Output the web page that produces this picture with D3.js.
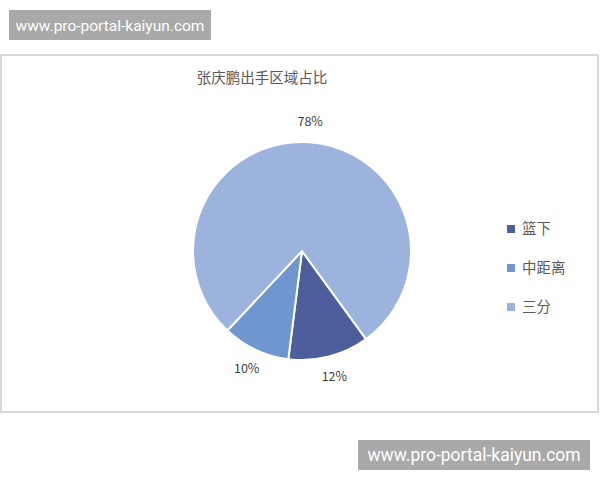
<!DOCTYPE html>
<html>
<head>
<meta charset="utf-8">
<script src="https://cdn.jsdelivr.net/npm/d3@7"></script>
<style>
  body { margin: 0; background: #fff; }
  svg { display: block; }
</style>
</head>
<body>
<svg id="chart" width="600" height="480"></svg>
<script>
'use strict';

// Données
const categories = ["篮下", "中距离", "三分"];
const valeurs = [12, 10, 78];
const etiquettes = ["12%", "10%", "78%"];
const couleurs = ["#4e5e9c", "#6f96cf", "#9cb3de"];

const titre = "张庆鹏出手区域占比";
const filigrane = "www.pro-portal-kaiyun.com";

const svg = d3.select("#chart");
const police = "'Noto Sans CJK SC', 'Noto Sans', sans-serif";

// Filigranes gris
function dessinerFiligrane(x, y, w, h, taille) {
    svg.append("rect")
        .attr("x", x).attr("y", y)
        .attr("width", w).attr("height", h)
        .attr("fill", "#a9a9a9");
    svg.append("text")
        .attr("x", x + w / 2).attr("y", y + h / 2 + 5.5)
        .attr("text-anchor", "middle")
        .attr("fill", "#ffffff")
        .style("font-family", "'Roboto', 'DejaVu Sans', sans-serif")
        .style("font-size", taille + "px")
        .text(filigrane);
}
dessinerFiligrane(9, 10, 202, 30, 15.5);
dessinerFiligrane(358, 440, 232, 30, 17.5);

// Cadre du graphique
svg.append("rect")
    .attr("x", 1).attr("y", 55)
    .attr("width", 597).attr("height", 357)
    .attr("fill", "#ffffff")
    .attr("stroke", "#d9d9d9")
    .attr("stroke-width", 2);

// Titre
svg.append("text")
    .attr("x", 262).attr("y", 83)
    .attr("text-anchor", "middle")
    .attr("fill", "#595959")
    .style("font-family", police)
    .style("font-size", "14.5px")
    .text(titre);

// Camembert : premier secteur à 144°
const cx = 302, cy = 251, rayon = 109;
const debut = 144 * Math.PI / 180;

const pie = d3.pie()
    .sort(null)
    .startAngle(debut)
    .endAngle(debut + 2 * Math.PI);

const arc = d3.arc().innerRadius(0).outerRadius(rayon);
const arcEtiquette = d3.arc().innerRadius(rayon + 21).outerRadius(rayon + 21);

const groupe = svg.append("g").attr("transform", `translate(${cx},${cy})`);
const secteurs = pie(valeurs);

groupe.selectAll("path")
    .data(secteurs)
    .join("path")
    .attr("d", arc)
    .attr("fill", (d, i) => couleurs[i])
    .attr("stroke", "#ffffff")
    .attr("stroke-width", 2)
    .attr("stroke-linejoin", "round");

groupe.selectAll("text")
    .data(secteurs)
    .join("text")
    .attr("transform", d => `translate(${arcEtiquette.centroid(d)})`)
    .attr("dy", "0.35em")
    .attr("text-anchor", "middle")
    .attr("fill", "#404040")
    .style("font-family", police)
    .style("font-size", "12.5px")
    .text((d, i) => etiquettes[i]);

// Légende
const y = d3.scalePoint().domain(categories).range([229, 307]);
const legende = svg.append("g");
categories.forEach((c, i) => {
    legende.append("rect")
        .attr("x", 507).attr("y", y(c) - 4)
        .attr("width", 8).attr("height", 8)
        .attr("fill", couleurs[i]);
    legende.append("text")
        .attr("x", 522).attr("y", y(c) + 5)
        .attr("fill", "#595959")
        .style("font-family", police)
        .style("font-size", "14.5px")
        .text(c);
});
</script>
</body>
</html>
